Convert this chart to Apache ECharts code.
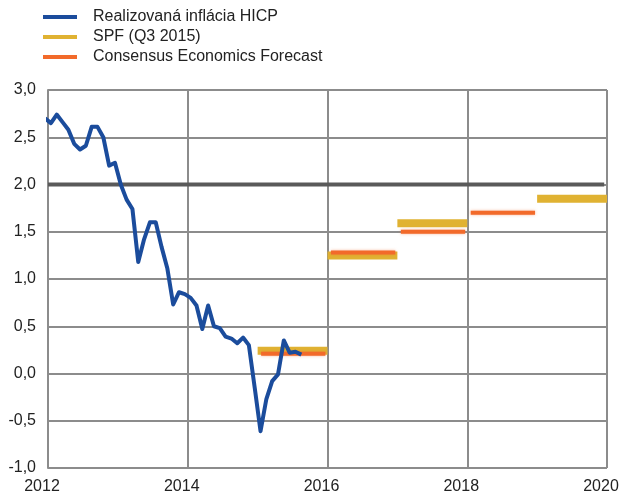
<!DOCTYPE html>
<html>
<head>
<meta charset="utf-8">
<script src="https://cdn.jsdelivr.net/npm/echarts@6/dist/echarts.min.js"></script>
<style>
html,body{margin:0;padding:0;background:#fff;}
#chart{width:622px;height:495px;}
</style>
</head>
<body>
<div id="chart"></div>
<script>
// Monthly HICP inflation (%), starting Dec 2011
const hicpStartYear = 2011;
const hicpStartMonth = 12;
const hicpValues = [
  2.70,
  2.65, 2.74, 2.66, 2.58, 2.43, 2.37, 2.41, 2.61, 2.61, 2.50, 2.20, 2.23,
  2.00, 1.84, 1.74, 1.18, 1.42, 1.60, 1.60, 1.34, 1.11, 0.73, 0.86, 0.84,
  0.80, 0.72, 0.47, 0.72, 0.50, 0.48, 0.39, 0.37, 0.32, 0.38, 0.30, -0.15,
  -0.61, -0.27, -0.08, -0.01, 0.35, 0.22, 0.23, 0.20
];
// SPF (Q3 2015) forecasts: [from year, to year]
const spfFrom = [2015, 2016, 2017, 2019];
const spfTo = [2016, 2017, 2018, 2020];
const spfValues = [0.24, 1.25, 1.59, 1.85];
// Consensus Economics forecasts
const ceFrom = [2015.05, 2016.05, 2017.05, 2018.05];
const ceTo = [2015.97, 2016.97, 2017.97, 2018.97];
const ceValues = [0.21, 1.28, 1.50, 1.70];
const targetValue = 2.0;
const xTicks = [2012, 2014, 2016, 2018, 2020];
const yMin = -1, yMax = 3, yStep = 0.5;

const names = ['Realizovaná inflácia HICP', 'SPF (Q3 2015)', 'Consensus Economics Forecast'];

const hicpData = hicpValues.map((v, i) => {
  const m = hicpStartMonth - 1 + i;
  const yr = hicpStartYear + Math.floor(m / 12);
  const mo = m % 12;
  return [yr + (mo + 0.5) / 12, v];
});
function segs(from, to, vals) {
  const out = [];
  vals.forEach((v, i) => {
    out.push([from[i], v], [to[i], v], [to[i], '-']);
  });
  return out;
}

const chart = echarts.init(document.getElementById('chart'), null, {renderer: 'canvas'});
const font = 'Liberation Sans, Arial, sans-serif';
chart.setOption({
  animation: false,
  textStyle: {fontFamily: font},
  grid: {left: 48, right: 15, top: 90, bottom: 27},
  legend: {
    data: names,
    orient: 'vertical',
    left: 43,
    top: 9,
    padding: 0,
    itemGap: 4,
    itemWidth: 34,
    itemHeight: 4,
    icon: 'rect',
    textStyle: {fontSize: 16, color: '#222', fontFamily: font, lineHeight: 16, padding: [0, 0, 0, 11]}
  },
  xAxis: {
    type: 'value',
    min: xTicks[0], max: xTicks[xTicks.length - 1], interval: 2,
    axisLine: {show: true, lineStyle: {color: '#8c8c8c', width: 2}},
    axisTick: {show: true, length: 6, lineStyle: {color: '#8c8c8c', width: 2}},
    splitLine: {show: true, lineStyle: {color: '#8c8c8c', width: 2}},
    axisLabel: {fontSize: 16, color: '#222', margin: 11, padding: [0, 12, 0, 0], formatter: v => String(v)}
  },
  yAxis: {
    type: 'value',
    min: yMin, max: yMax, interval: yStep,
    axisLine: {show: true, lineStyle: {color: '#8c8c8c', width: 2}},
    axisTick: {show: false},
    splitLine: {show: true, lineStyle: {color: '#8c8c8c', width: 2}},
    axisLabel: {fontSize: 16, color: '#222', margin: 12, formatter: v => v.toFixed(1).replace('.', ',')}
  },
  series: [
    {
      name: 'target', type: 'line', symbol: 'none', silent: true,
      data: [[xTicks[0], targetValue], [xTicks[xTicks.length - 1] - 0.04, targetValue]],
      lineStyle: {color: '#5a5a5a', width: 4}, z: 3
    },
    {
      name: names[1], type: 'line', symbol: 'none', clip: false,
      data: segs(spfFrom, spfTo, spfValues),
      color: '#e0b232',
      lineStyle: {color: '#e0b232', width: 8, cap: 'butt'}, z: 4
    },
    {
      name: names[2], type: 'line', symbol: 'none',
      data: segs(ceFrom, ceTo, ceValues),
      color: '#f26a2a',
      lineStyle: {color: '#f26a2a', width: 4, cap: 'butt', shadowColor: 'rgba(242,106,42,0.5)', shadowBlur: 3}, z: 5
    },
    {
      name: names[0], type: 'line', symbol: 'none',
      data: hicpData,
      color: '#1b4c9c',
      lineStyle: {color: '#1b4c9c', width: 4, join: 'round'}, z: 6
    }
  ]
});
</script>
</body>
</html>
